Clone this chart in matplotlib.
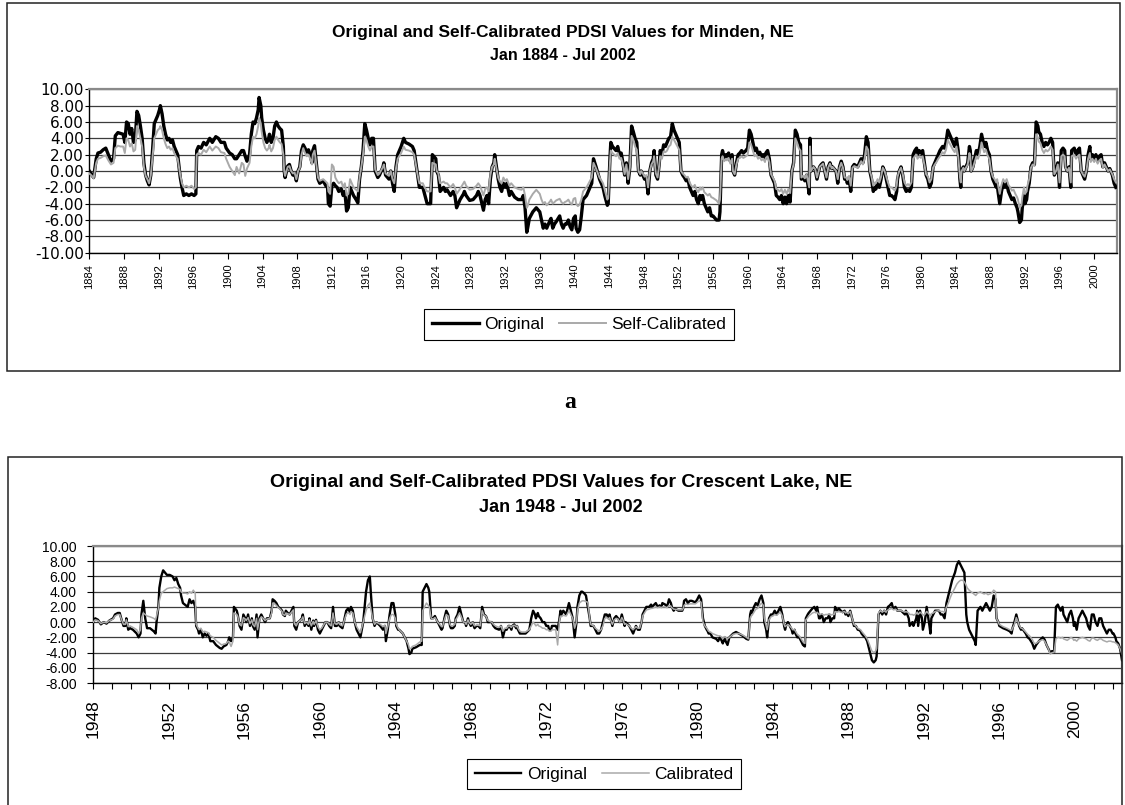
import matplotlib
matplotlib.use("Agg")
import matplotlib.pyplot as plt
from matplotlib.patches import Rectangle
from matplotlib.lines import Line2D
from matplotlib.ticker import FixedLocator, FuncFormatter

# ---- panel a: Minden, NE ----
a_years = [
    1884.0, 1884.3, 1884.5, 1884.8, 1885.0, 1885.3, 1885.6, 1885.9,
    1886.2, 1886.5, 1886.8, 1887.0, 1887.3, 1887.6, 1887.9, 1888.1,
    1888.3, 1888.5, 1888.7, 1888.9, 1889.1, 1889.3, 1889.5, 1889.7,
    1889.9, 1890.1, 1890.3, 1890.5, 1890.7, 1890.9, 1891.1, 1891.3,
    1891.5, 1891.7, 1891.9, 1892.1, 1892.2, 1892.4, 1892.6, 1892.8,
    1893.0, 1893.2, 1893.4, 1893.6, 1893.8, 1894.0, 1894.2, 1894.5,
    1894.7, 1894.9, 1895.2, 1895.5, 1895.8, 1896.1, 1896.3, 1896.4,
    1896.6, 1896.9, 1897.2, 1897.5, 1897.9, 1898.2, 1898.6, 1898.9,
    1899.2, 1899.6, 1899.8, 1900.2, 1900.5, 1900.8, 1901.0, 1901.3,
    1901.6, 1901.8, 1902.0, 1902.2, 1902.5, 1902.7, 1902.9, 1903.1,
    1903.3, 1903.5, 1903.6, 1903.8, 1903.9, 1904.1, 1904.3, 1904.5,
    1904.7, 1904.8, 1905.0, 1905.2, 1905.4, 1905.6, 1905.8, 1906.0,
    1906.2, 1906.4, 1906.5, 1906.6, 1906.9, 1907.1, 1907.3, 1907.5,
    1907.7, 1907.9, 1908.1, 1908.3, 1908.5, 1908.7, 1908.9, 1909.1,
    1909.3, 1909.5, 1909.7, 1909.8, 1910.0, 1910.2, 1910.4, 1910.6,
    1911.0, 1911.3, 1911.5, 1911.6, 1911.8, 1912.0, 1912.2, 1912.4,
    1912.6, 1912.8, 1913.1, 1913.3, 1913.5, 1913.7, 1913.9, 1914.1,
    1914.3, 1914.5, 1914.8, 1915.0, 1915.2, 1915.4, 1915.6, 1915.8,
    1916.0, 1916.2, 1916.4, 1916.6, 1916.8, 1917.0, 1917.3, 1917.5,
    1917.9, 1918.0, 1918.2, 1918.6, 1918.8, 1919.0, 1919.2, 1919.4,
    1919.6, 1920.0, 1920.3, 1920.5, 1920.9, 1921.3, 1921.5, 1921.7,
    1921.9, 1922.1, 1922.5, 1922.7, 1923.0, 1923.4, 1923.6, 1924.0,
    1924.1, 1924.3, 1924.4, 1924.5, 1924.9, 1925.1, 1925.3, 1925.7,
    1926.0, 1926.2, 1926.4, 1926.8, 1927.2, 1927.3, 1927.5, 1927.9,
    1928.3, 1928.7, 1928.9, 1929.1, 1929.5, 1929.7, 1929.9, 1930.1,
    1930.3, 1930.5, 1930.7, 1930.8, 1931.0, 1931.2, 1931.4, 1931.6,
    1931.8, 1932.0, 1932.2, 1932.5, 1932.7, 1933.1, 1933.5, 1933.9,
    1934.1, 1934.3, 1934.5, 1934.6, 1934.8, 1935.2, 1935.6, 1936.0,
    1936.2, 1936.4, 1936.6, 1936.8, 1937.2, 1937.3, 1937.5, 1937.7,
    1937.9, 1938.3, 1938.5, 1938.7, 1938.9, 1939.1, 1939.3, 1939.5,
    1939.7, 1939.9, 1940.1, 1940.2, 1940.4, 1940.6, 1940.8, 1941.0,
    1941.4, 1941.8, 1942.0, 1942.2, 1942.5, 1942.9, 1943.3, 1943.5,
    1943.8, 1943.9, 1944.1, 1944.2, 1944.4, 1944.8, 1945.0, 1945.2,
    1945.4, 1945.6, 1945.8, 1946.0, 1946.2, 1946.4, 1946.6, 1946.8,
    1947.0, 1947.2, 1947.4, 1947.6, 1947.7, 1947.9, 1948.1, 1948.3,
    1948.5, 1948.7, 1948.9, 1949.1, 1949.2, 1949.4, 1949.6, 1949.8,
    1949.9, 1950.1, 1950.3, 1950.5, 1950.7, 1950.9, 1951.1, 1951.3,
    1951.5, 1951.7, 1951.9, 1952.1, 1952.3, 1952.5, 1952.7, 1952.9,
    1953.1, 1953.3, 1953.5, 1953.7, 1953.9, 1954.1, 1954.3, 1954.5,
    1954.6, 1954.8, 1955.0, 1955.2, 1955.4, 1955.6, 1955.8, 1956.0,
    1956.4, 1956.7, 1956.8, 1957.0, 1957.1, 1957.3, 1957.5, 1957.6,
    1957.8, 1958.0, 1958.2, 1958.3, 1958.5, 1958.7, 1958.9, 1959.1,
    1959.3, 1959.5, 1959.8, 1960.0, 1960.2, 1960.4, 1960.6, 1960.8,
    1961.0, 1961.2, 1961.4, 1961.6, 1961.8, 1962.0, 1962.1, 1962.3,
    1962.5, 1962.7, 1962.9, 1963.1, 1963.3, 1963.5, 1963.7, 1963.9,
    1964.1, 1964.3, 1964.5, 1964.7, 1964.9, 1965.1, 1965.3, 1965.5,
    1965.7, 1965.9, 1966.1, 1966.2, 1966.4, 1966.6, 1966.8, 1967.0,
    1967.1, 1967.2, 1967.3, 1967.6, 1967.8, 1968.0, 1968.2, 1968.3,
    1968.5, 1968.7, 1968.9, 1969.1, 1969.3, 1969.5, 1969.7, 1969.8,
    1970.2, 1970.4, 1970.6, 1970.8, 1971.0, 1971.2, 1971.4, 1971.5,
    1971.7, 1971.9, 1972.1, 1972.3, 1972.7, 1972.9, 1973.1, 1973.3,
    1973.5, 1973.7, 1973.9, 1974.1, 1974.3, 1974.5, 1974.7, 1974.8,
    1975.0, 1975.2, 1975.4, 1975.6, 1975.8, 1976.0, 1976.2, 1976.4,
    1976.6, 1976.8, 1977.0, 1977.2, 1977.3, 1977.5, 1977.7, 1977.9,
    1978.1, 1978.3, 1978.5, 1978.7, 1978.9, 1979.1, 1979.3, 1979.5,
    1979.6, 1979.8, 1980.0, 1980.2, 1980.4, 1980.6, 1980.8, 1981.0,
    1981.2, 1981.4, 1981.6, 1981.8, 1982.0, 1982.2, 1982.5, 1982.7,
    1982.9, 1983.1, 1983.3, 1983.5, 1983.7, 1983.9, 1984.1, 1984.3,
    1984.5, 1984.6, 1984.7, 1984.9, 1985.0, 1985.2, 1985.4, 1985.6,
    1985.7, 1985.8, 1986.0, 1986.2, 1986.4, 1986.6, 1986.8, 1987.0,
    1987.1, 1987.3, 1987.5, 1987.7, 1987.9, 1988.1, 1988.3, 1988.5,
    1988.7, 1988.8, 1988.9, 1989.1, 1989.3, 1989.5, 1989.7, 1989.9,
    1990.1, 1990.3, 1990.5, 1990.7, 1990.9, 1991.1, 1991.2, 1991.4,
    1991.6, 1991.7, 1991.9, 1992.0, 1992.2, 1992.3, 1992.5, 1992.7,
    1992.9, 1993.1, 1993.3, 1993.5, 1993.6, 1993.8, 1994.0, 1994.2,
    1994.4, 1994.6, 1994.8, 1995.0, 1995.2, 1995.4, 1995.6, 1995.8,
    1996.0, 1996.2, 1996.4, 1996.6, 1996.7, 1996.9, 1997.1, 1997.3,
    1997.4, 1997.7, 1997.9, 1998.1, 1998.3, 1998.5, 1998.7, 1998.9,
    1999.1, 1999.3, 1999.5, 1999.6, 1999.8, 2000.0, 2000.2, 2000.4,
    2000.6, 2000.8, 2001.0, 2001.2, 2001.4, 2001.6, 2001.8, 2002.1,
    2002.3, 2002.5,
]
a_orig = [
    0.0, -0.5, -0.8, 1.5, 2.2, 2.3, 2.6, 2.8,
    2.0, 1.2, 1.5, 4.3, 4.7, 4.6, 4.5, 3.5,
    6.0, 5.8, 4.5, 5.2, 3.5, 3.8, 7.3, 6.8,
    5.5, 4.0, 1.0, -0.5, -1.2, -1.7, -0.5, 2.5,
    5.8, 6.3, 6.8, 7.5, 8.0, 7.0, 5.5, 4.5,
    3.8, 4.0, 3.5, 3.8, 3.0, 2.5, 2.0, -0.8,
    -2.0, -3.0, -2.8, -3.0, -2.8, -3.0, -2.8, 2.5,
    3.0, 2.8, 3.5, 3.2, 4.0, 3.5, 4.2, 4.0,
    3.5, 3.5, 2.8, 2.2, 2.0, 1.5, 1.5, 2.0,
    2.5, 2.5, 1.8, 1.2, 2.0, 4.5, 6.0, 5.8,
    6.5, 7.5, 9.0, 8.0, 6.5, 5.0, 4.0, 3.5,
    4.0, 4.5, 3.5, 4.0, 5.5, 6.0, 5.5, 5.2,
    5.0, 3.0, 0.0, -0.8, 0.6, 0.8, 0.0, -0.5,
    -0.3, -1.2, 0.0, 0.5, 2.5, 3.2, 2.8, 2.3,
    2.6, 2.0, 1.0, 2.5, 3.1, 1.0, -1.0, -1.5,
    -1.2, -1.8, -2.0, -4.0, -4.3, -1.8, -1.5, -1.8,
    -2.0, -2.5, -2.2, -3.0, -2.5, -4.9, -4.5, -2.0,
    -2.5, -3.0, -3.5, -3.9, -1.0, 0.5, 2.5, 5.8,
    5.0, 4.0, 3.2, 4.0, 4.0, 0.0, -0.8, -0.5,
    0.5, 1.0, -0.5, -1.0, 0.0, -1.5, -2.5, 0.5,
    2.0, 3.0, 4.0, 3.5, 3.3, 3.0, 2.5, 1.0,
    -0.5, -2.0, -2.0, -2.8, -4.0, -4.0, 2.0, 1.5,
    0.0, -0.5, -1.5, -2.5, -2.0, -2.5, -2.3, -3.0,
    -2.5, -3.0, -4.5, -3.5, -2.8, -2.5, -3.0, -3.6,
    -3.5, -3.0, -2.5, -3.0, -4.8, -3.5, -3.0, -4.0,
    -1.0, 0.5, 1.0, 2.0, 0.5, -1.0, -2.0, -2.5,
    -1.5, -2.0, -1.5, -3.0, -2.5, -3.2, -3.5, -3.5,
    -3.0, -4.5, -7.5, -7.0, -5.8, -5.0, -4.5, -5.0,
    -6.0, -7.0, -6.5, -7.0, -6.0, -5.8, -7.0, -6.5,
    -6.2, -5.5, -6.5, -7.0, -6.5, -6.5, -6.0, -6.8,
    -7.2, -5.8, -5.5, -7.0, -7.5, -7.2, -5.5, -3.5,
    -3.0, -2.0, -1.5, 1.5, 0.5, -1.0, -2.0, -3.0,
    -4.2, -4.0, 1.5, 3.5, 3.0, 2.5, 3.0, 2.0,
    2.2, 1.0, -0.5, 1.0, -1.5, 0.5, 5.5, 4.8,
    4.0, 3.5, 0.0, -0.5, 0.0, -0.5, -1.0, -0.8,
    -2.8, 0.0, 1.0, 1.5, 2.5, -0.5, -1.0, 1.0,
    2.5, 2.0, 3.2, 3.0, 3.5, 4.0, 4.2, 5.8,
    5.0, 4.5, 4.0, 3.5, 0.0, -0.5, -0.8, -1.2,
    -1.0, -2.0, -2.5, -3.0, -2.5, -3.5, -4.0, -3.0,
    -3.5, -3.0, -4.0, -4.5, -5.0, -4.5, -5.5, -5.5,
    -6.0, -6.0, -5.0, 2.0, 2.5, 1.5, 2.0, 1.8,
    2.2, 1.2, 2.0, 0.0, -0.5, 1.0, 2.0, 2.2,
    2.5, 2.2, 2.5, 2.8, 5.0, 4.5, 3.5, 2.5,
    2.8, 2.0, 2.3, 1.8, 2.0, 1.5, 2.2, 2.5,
    1.5, -0.5, -1.0, -1.5, -3.0, -3.2, -3.5, -3.0,
    -4.0, -3.2, -4.0, -3.0, -3.8, 0.0, 1.0, 5.0,
    4.5, 3.5, 3.2, -1.0, -0.8, -1.2, -0.5, -2.0,
    -2.8, 4.0, 0.0, 0.5, 0.2, -1.0, 0.0, 0.5,
    0.8, 1.0, 0.0, -1.0, 0.5, 1.0, 0.3, 0.5,
    0.0, -1.5, 0.5, 1.2, 0.5, -1.0, -1.0, -1.5,
    -0.8, -2.5, 0.5, 0.8, 0.5, 1.0, 1.5, 1.0,
    2.0, 4.2, 3.5, 0.0, -1.0, -2.5, -2.0, -2.2,
    -1.5, -2.0, -1.0, 0.5, 0.0, -1.0, -2.0, -3.0,
    -3.0, -3.2, -3.5, -2.5, -1.0, 0.0, 0.5, -0.5,
    -2.0, -2.5, -2.3, -2.5, -2.0, 2.0, 2.5, 2.8,
    2.0, 2.5, 2.2, 2.5, 1.0, -0.5, -1.0, -2.0,
    -1.5, 0.5, 1.0, 1.5, 2.0, 2.5, 3.0, 2.8,
    3.5, 5.0, 4.5, 4.0, 3.5, 3.0, 4.0, 2.5,
    -1.0, -2.0, 0.0, 0.5, 0.0, 0.5, 1.0, 3.0,
    2.5, 0.0, 0.5, 1.5, 2.5, 2.0, 3.0, 4.5,
    4.0, 3.0, 3.5, 2.5, 2.0, 0.0, -1.0, -1.5,
    -2.0, -1.5, -2.5, -4.0, -2.5, -1.5, -2.0, -1.5,
    -2.5, -3.0, -3.5, -3.3, -4.0, -4.5, -5.0, -6.3,
    -6.0, -4.5, -3.0, -4.0, -3.5, -2.5, -1.5, 0.5,
    1.0, 0.8, 6.0, 5.5, 4.8, 4.5, 3.5, 3.0,
    3.5, 3.2, 3.5, 4.0, 3.5, -0.5, 0.0, 1.0,
    -2.0, 2.5, 2.8, 2.5, 0.5, 0.0, 0.5, -2.0,
    2.5, 2.8, 2.0, 2.5, 2.8, 0.0, -0.5, -1.0,
    0.0, 2.0, 3.0, 1.5, 2.0, 1.5, 2.0, 1.2,
    1.8, 2.0, 0.5, 1.0, 0.5, 0.0, 0.3, -0.5,
    -1.5, -2.0,
]
a_cal = [
    -0.3, -0.6, -0.9, 1.0, 1.5, 1.6, 1.8, 1.9,
    1.3, 0.8, 1.0, 2.8, 3.1, 3.0, 3.0, 2.2,
    4.0, 3.8, 3.0, 3.4, 2.4, 2.6, 5.5, 5.0,
    4.0, 3.0, 0.5, -0.6, -1.0, -1.5, -0.5, 1.8,
    4.0, 4.5, 5.0, 5.2, 5.5, 5.0, 4.0, 3.3,
    2.8, 3.0, 2.6, 2.8, 2.2, 1.8, 1.5, -0.5,
    -1.5, -2.0, -1.8, -2.0, -1.8, -2.2, -2.0, 2.0,
    2.2, 2.0, 2.6, 2.3, 3.0, 2.5, 3.0, 2.8,
    2.3, 2.2, 1.5, 0.5, 0.0, -0.5, 0.5, -0.3,
    1.0, 0.8, -0.6, 0.3, 1.0, 3.0, 4.2, 4.0,
    4.5, 5.5, 6.5, 5.8, 4.8, 3.5, 2.8, 2.5,
    2.8, 3.2, 2.4, 2.8, 3.8, 4.2, 3.8, 3.5,
    3.3, 2.0, 0.0, -0.6, 0.5, 0.6, 0.0, -0.3,
    -0.2, -1.0, 0.0, 0.4, 2.0, 2.8, 2.2, 1.8,
    2.0, 1.5, 0.8, 2.0, 2.5, 0.8, -0.8, -1.2,
    -1.0, -1.3, -1.5, -2.5, -2.8, 0.8, 0.5, -0.8,
    -1.2, -1.5, -1.3, -2.0, -1.5, -3.0, -2.8, -1.0,
    -1.5, -2.0, -2.3, -2.5, -0.8, 0.5, 2.0, 4.2,
    3.8, 3.0, 2.5, 3.0, 3.0, 0.2, -0.5, -0.3,
    0.5, 0.8, -0.3, -0.6, 0.0, -1.0, -1.5, 0.3,
    1.5, 2.2, 3.0, 2.6, 2.5, 2.3, 2.0, 0.8,
    -0.5, -1.5, -1.5, -2.0, -2.5, -2.5, 1.0, 0.8,
    0.0, -0.3, -1.0, -1.5, -1.3, -1.5, -1.5, -2.0,
    -1.6, -2.0, -2.8, -2.2, -1.5, -1.3, -1.8, -2.3,
    -2.2, -1.8, -1.5, -1.8, -3.0, -2.2, -2.0, -2.5,
    -0.5, 0.5, 0.8, 1.5, 0.3, -0.8, -1.3, -1.5,
    -0.8, -1.2, -1.0, -1.8, -1.5, -2.0, -2.2, -2.3,
    -2.0, -3.0, -4.5, -4.3, -3.5, -2.8, -2.3, -2.8,
    -3.5, -4.0, -3.8, -4.2, -3.7, -3.5, -4.0, -3.8,
    -3.6, -3.4, -3.8, -4.0, -3.8, -3.7, -3.5, -3.9,
    -4.1, -3.4, -3.3, -4.0, -4.3, -4.1, -3.5, -2.5,
    -2.0, -1.2, -0.8, 1.0, 0.3, -0.8, -1.5, -2.3,
    -3.5, -3.3, 1.0, 2.5, 2.2, 1.8, 2.2, 1.5,
    1.6, 0.8, -0.4, 0.8, -1.0, 0.4, 4.3, 3.8,
    3.0, 2.6, 0.0, -0.4, 0.0, -0.3, -0.7, -0.5,
    -2.0, 0.0, 0.8, 1.2, 1.8, -0.3, -0.8, 0.8,
    1.8, 1.5, 2.4, 2.3, 2.5, 3.0, 3.2, 4.2,
    3.8, 3.4, 3.0, 2.6, 0.0, -0.3, -0.5, -0.8,
    -0.7, -1.4, -1.8, -2.0, -1.7, -2.3, -2.6, -2.0,
    -2.3, -2.0, -2.6, -2.8, -3.0, -2.8, -3.2, -3.3,
    -3.6, -4.0, -3.5, 1.5, 1.8, 1.2, 1.5, 1.3,
    1.6, 0.9, 1.5, 0.0, -0.4, 0.8, 1.5, 1.6,
    1.8, 1.6, 1.8, 2.0, 3.5, 3.2, 2.5, 1.8,
    2.0, 1.5, 1.7, 1.3, 1.5, 1.1, 1.6, 1.8,
    1.1, -0.4, -0.8, -1.2, -2.2, -2.3, -2.5, -2.2,
    -2.8, -2.3, -2.8, -2.2, -2.7, 0.0, 0.8, 4.0,
    3.5, 2.8, 2.5, -0.8, -0.6, -0.9, -0.4, -1.5,
    -2.0, 3.0, 0.0, 0.5, 0.2, -0.8, 0.0, 0.5,
    0.7, 0.9, 0.0, -0.8, 0.4, 0.9, 0.3, 0.5,
    0.0, -1.0, 0.4, 1.0, 0.4, -0.8, -0.8, -1.1,
    -0.6, -1.8, 0.4, 0.6, 0.4, 0.8, 1.2, 0.8,
    1.5, 3.0, 2.6, 0.0, -0.7, -1.8, -1.4, -1.5,
    -1.0, -1.4, -0.7, 0.4, 0.0, -0.7, -1.4, -2.0,
    -2.0, -2.2, -2.4, -1.8, -0.7, 0.0, 0.4, -0.4,
    -1.4, -1.8, -1.6, -1.8, -1.4, 1.5, 1.8, 2.0,
    1.5, 1.8, 1.6, 1.8, 0.8, -0.4, -0.7, -1.4,
    -1.0, 0.4, 0.8, 1.1, 1.5, 1.8, 2.3, 2.1,
    2.6, 3.8, 3.4, 3.0, 2.6, 2.3, 3.0, 1.8,
    -0.7, -1.4, 0.0, 0.4, 0.0, 0.4, 0.8, 2.2,
    1.8, 0.0, 0.4, 1.1, 1.8, 1.5, 2.2, 3.5,
    3.1, 2.3, 2.6, 1.9, 1.5, 0.0, -0.7, -1.0,
    -1.4, -1.0, -1.7, -2.8, -1.7, -1.0, -1.4, -1.0,
    -1.7, -2.0, -2.4, -2.3, -2.8, -3.2, -3.5, -4.5,
    -4.2, -3.2, -2.0, -2.8, -2.5, -1.8, -1.0, 0.4,
    0.8, 0.6, 4.5, 4.1, 3.6, 3.4, 2.6, 2.2,
    2.6, 2.4, 2.6, 3.0, 2.6, -0.4, 0.0, 0.8,
    -1.4, 1.8, 2.0, 1.8, 0.4, 0.0, 0.4, -1.4,
    1.8, 2.0, 1.5, 1.8, 2.0, 0.0, -0.4, -0.7,
    0.0, 1.5, 2.2, 1.1, 1.5, 1.1, 1.5, 0.9,
    1.3, 1.5, 0.4, 0.8, 0.4, 0.0, 0.2, -0.4,
    -1.0, -1.4,
]

# ---- panel b: Crescent Lake, NE ----
b_years = [
    1948.0, 1948.1, 1948.25, 1948.4, 1948.55, 1948.7, 1948.85, 1949.05,
    1949.15, 1949.3, 1949.4, 1949.5, 1949.6, 1949.7, 1949.75, 1949.85,
    1949.95, 1950.1, 1950.3, 1950.4, 1950.5, 1950.55, 1950.65, 1950.75,
    1950.85, 1951.0, 1951.2, 1951.3, 1951.35, 1951.45, 1951.5, 1951.6,
    1951.7, 1951.8, 1951.9, 1952.05, 1952.2, 1952.3, 1952.4, 1952.5,
    1952.6, 1952.65, 1952.75, 1952.9, 1953.0, 1953.1, 1953.2, 1953.3,
    1953.4, 1953.45, 1953.55, 1953.6, 1953.7, 1953.8, 1953.9, 1954.0,
    1954.1, 1954.2, 1954.35, 1954.5, 1954.7, 1954.8, 1954.9, 1955.05,
    1955.15, 1955.2, 1955.3, 1955.4, 1955.45, 1955.6, 1955.65, 1955.75,
    1955.85, 1955.95, 1956.05, 1956.1, 1956.2, 1956.3, 1956.4, 1956.45,
    1956.55, 1956.65, 1956.7, 1956.8, 1956.9, 1957.0, 1957.1, 1957.2,
    1957.35, 1957.45, 1957.5, 1957.6, 1957.7, 1957.8, 1957.9, 1958.0,
    1958.05, 1958.15, 1958.2, 1958.3, 1958.4, 1958.5, 1958.6, 1958.65,
    1958.75, 1958.85, 1958.95, 1959.05, 1959.1, 1959.2, 1959.3, 1959.4,
    1959.45, 1959.55, 1959.65, 1959.7, 1959.8, 1959.9, 1960.0, 1960.1,
    1960.2, 1960.3, 1960.4, 1960.5, 1960.6, 1960.7, 1960.8, 1960.9,
    1961.0, 1961.05, 1961.2, 1961.4, 1961.5, 1961.6, 1961.65, 1961.75,
    1961.85, 1961.95, 1962.05, 1962.15, 1962.3, 1962.45, 1962.55, 1962.65,
    1962.7, 1962.8, 1962.9, 1963.0, 1963.2, 1963.35, 1963.45, 1963.5,
    1963.6, 1963.7, 1963.8, 1963.9, 1964.0, 1964.05, 1964.15, 1964.2,
    1964.4, 1964.5, 1964.6, 1964.7, 1964.75, 1964.85, 1964.9, 1965.1,
    1965.3, 1965.4, 1965.45, 1965.55, 1965.65, 1965.75, 1965.8, 1965.9,
    1966.0, 1966.1, 1966.15, 1966.25, 1966.35, 1966.45, 1966.5, 1966.6,
    1966.7, 1966.8, 1966.9, 1966.95, 1967.05, 1967.15, 1967.2, 1967.3,
    1967.4, 1967.5, 1967.6, 1967.7, 1967.75, 1967.85, 1967.9, 1968.0,
    1968.1, 1968.15, 1968.2, 1968.3, 1968.4, 1968.5, 1968.6, 1968.7,
    1968.8, 1968.85, 1968.9, 1969.1, 1969.2, 1969.3, 1969.5, 1969.6,
    1969.7, 1969.8, 1969.9, 1970.0, 1970.05, 1970.15, 1970.2, 1970.3,
    1970.4, 1970.45, 1970.5, 1970.6, 1970.7, 1970.9, 1971.1, 1971.2,
    1971.3, 1971.4, 1971.45, 1971.55, 1971.6, 1971.7, 1971.8, 1971.9,
    1972.0, 1972.1, 1972.15, 1972.25, 1972.3, 1972.5, 1972.6, 1972.7,
    1972.75, 1972.8, 1972.9, 1973.05, 1973.1, 1973.2, 1973.3, 1973.4,
    1973.5, 1973.6, 1973.65, 1973.75, 1973.85, 1973.9, 1974.0, 1974.1,
    1974.2, 1974.3, 1974.35, 1974.5, 1974.6, 1974.7, 1974.8, 1974.9,
    1975.0, 1975.1, 1975.2, 1975.3, 1975.35, 1975.45, 1975.5, 1975.6,
    1975.7, 1975.8, 1975.9, 1976.0, 1976.05, 1976.15, 1976.2, 1976.4,
    1976.5, 1976.6, 1976.75, 1976.85, 1976.95, 1977.05, 1977.1, 1977.2,
    1977.3, 1977.45, 1977.55, 1977.6, 1977.8, 1977.9, 1978.0, 1978.1,
    1978.15, 1978.3, 1978.4, 1978.5, 1978.6, 1978.65, 1978.75, 1978.8,
    1979.0, 1979.2, 1979.25, 1979.3, 1979.4, 1979.5, 1979.6, 1979.7,
    1979.9, 1980.0, 1980.1, 1980.2, 1980.3, 1980.4, 1980.5, 1980.55,
    1980.6, 1980.7, 1980.8, 1981.0, 1981.1, 1981.2, 1981.3, 1981.35,
    1981.45, 1981.5, 1981.6, 1981.7, 1981.9, 1982.05, 1982.2, 1982.4,
    1982.6, 1982.7, 1982.8, 1982.85, 1982.9, 1983.0, 1983.1, 1983.2,
    1983.3, 1983.4, 1983.5, 1983.55, 1983.65, 1983.7, 1983.8, 1983.9,
    1984.0, 1984.1, 1984.2, 1984.3, 1984.4, 1984.5, 1984.6, 1984.65,
    1984.7, 1984.8, 1984.9, 1985.0, 1985.05, 1985.15, 1985.2, 1985.3,
    1985.4, 1985.5, 1985.6, 1985.7, 1985.75, 1985.85, 1985.9, 1986.0,
    1986.1, 1986.2, 1986.3, 1986.35, 1986.45, 1986.5, 1986.6, 1986.7,
    1986.8, 1986.9, 1987.0, 1987.05, 1987.15, 1987.25, 1987.3, 1987.4,
    1987.5, 1987.6, 1987.7, 1987.8, 1987.85, 1987.9, 1988.0, 1988.1,
    1988.2, 1988.3, 1988.4, 1988.5, 1988.55, 1988.65, 1988.7, 1988.8,
    1988.9, 1989.0, 1989.1, 1989.2, 1989.25, 1989.35, 1989.45, 1989.5,
    1989.6, 1989.7, 1989.8, 1989.9, 1990.0, 1990.05, 1990.1, 1990.2,
    1990.3, 1990.35, 1990.4, 1990.5, 1990.6, 1990.8, 1991.0, 1991.05,
    1991.2, 1991.25, 1991.4, 1991.45, 1991.6, 1991.65, 1991.7, 1991.8,
    1991.9, 1991.95, 1992.05, 1992.15, 1992.3, 1992.35, 1992.4, 1992.5,
    1992.6, 1992.8, 1992.9, 1993.0, 1993.1, 1993.15, 1993.2, 1993.3,
    1993.4, 1993.5, 1993.65, 1993.75, 1993.85, 1993.95, 1994.05, 1994.15,
    1994.25, 1994.3, 1994.4, 1994.5, 1994.6, 1994.7, 1994.75, 1994.85,
    1995.0, 1995.1, 1995.2, 1995.3, 1995.4, 1995.5, 1995.6, 1995.7,
    1995.8, 1995.85, 1995.95, 1996.0, 1996.2, 1996.4, 1996.55, 1996.65,
    1996.7, 1996.8, 1996.9, 1997.0, 1997.05, 1997.15, 1997.2, 1997.4,
    1997.5, 1997.6, 1997.75, 1997.85, 1997.95, 1998.1, 1998.3, 1998.4,
    1998.5, 1998.6, 1998.7, 1998.8, 1998.9, 1999.0, 1999.1, 1999.15,
    1999.25, 1999.35, 1999.4, 1999.5, 1999.6, 1999.7, 1999.8, 1999.9,
    1999.95, 2000.0, 2000.1, 2000.2, 2000.3, 2000.4, 2000.5, 2000.6,
    2000.7, 2000.8, 2000.9, 2001.0, 2001.1, 2001.2, 2001.25, 2001.3,
    2001.4, 2001.5, 2001.6, 2001.7, 2001.8, 2001.9, 2002.0, 2002.05,
    2002.15, 2002.2, 2002.3, 2002.4, 2002.5,
]
b_orig = [
    0.0, 0.5, 0.3, -0.3, 0.0, -0.2, 0.2, 0.5,
    1.0, 1.2, 1.2, 0.3, -0.5, -0.5, 0.5, -1.0,
    -0.8, -1.0, -1.5, -2.0, -1.5, 1.0, 2.8, 0.5,
    -0.8, -0.8, -1.2, -1.5, 0.0, 2.0, 4.5, 6.0,
    6.8, 6.5, 6.2, 6.2, 6.0, 5.5, 5.8, 5.0,
    4.5, 3.5, 2.5, 2.2, 2.0, 3.0, 2.5, 2.8,
    2.0, -0.5, -1.0, -1.5, -1.0, -2.0, -1.5, -1.8,
    -1.5, -2.5, -2.5, -3.0, -3.4, -3.5, -3.2, -3.0,
    -2.5, -2.0, -2.5, -2.0, 2.0, 1.5, 1.0, -0.5,
    -1.0, 1.0, 0.5, 0.0, 1.0, -0.5, 0.5, -0.5,
    -1.0, 1.0, -2.0, 0.5, 1.0, 0.5, 0.0, 0.5,
    0.5, 1.5, 3.0, 2.8, 2.5, 2.0, 1.8, 1.5,
    1.0, 0.8, 1.5, 1.2, 1.0, 1.5, 2.0, -0.5,
    -1.0, 0.0, 0.2, 0.5, 1.0, -0.5, 0.0, -0.5,
    0.5, -1.0, 0.2, -0.5, 0.3, -1.0, -1.5, -1.0,
    -0.5, 0.0, 0.0, -0.5, -0.8, 2.0, -0.5, -0.5,
    0.0, -0.5, -0.8, 1.5, 1.8, 1.2, 2.0, 1.5,
    0.0, -1.0, -1.5, -2.0, 0.0, 4.0, 5.5, 6.0,
    4.0, 0.5, -0.5, 0.0, -0.5, -1.0, -0.5, -2.5,
    -1.0, 1.0, 2.5, 2.5, 1.0, -0.5, -1.0, -1.0,
    -1.5, -2.0, -2.5, -3.5, -4.2, -4.0, -3.5, -3.3,
    -3.0, -3.0, 4.0, 4.5, 5.0, 4.5, 4.0, 0.5,
    0.5, 0.8, 0.5, 0.0, -0.5, -1.0, -0.8, 0.5,
    1.5, 1.0, -0.5, -0.8, -0.8, -0.5, 0.5, 1.0,
    2.0, 1.0, 0.0, 0.0, -0.5, 0.5, 0.0, -0.5,
    0.0, -0.5, -0.8, -0.5, -0.5, -0.8, 2.0, 1.0,
    0.8, 0.5, 0.0, 0.0, -0.5, -0.8, -1.0, -0.5,
    -2.0, -1.0, -1.0, -0.5, -0.5, -1.0, -0.5, -0.3,
    -0.8, -0.5, -1.0, -1.5, -1.5, -1.5, -1.0, 0.5,
    1.5, 1.0, 0.5, 1.2, 0.8, 0.5, 0.0, 0.0,
    -0.5, -0.5, -1.0, -1.0, -0.5, -0.5, -1.0, 0.5,
    1.5, 1.0, 1.5, 1.0, 1.5, 2.5, 1.5, 0.5,
    -2.0, 0.0, 2.0, 3.5, 4.0, 4.0, 3.8, 3.5,
    2.0, 0.5, -0.5, -0.5, -1.0, -1.5, -1.5, -1.0,
    0.0, 1.0, 1.0, 0.5, 1.0, 0.0, -0.5, 0.5,
    0.8, 0.5, 0.0, 1.0, 0.5, -0.5, 0.0, -0.5,
    -1.0, -1.5, -0.5, -1.0, -1.0, 0.0, 1.0, 1.5,
    2.0, 2.0, 2.3, 2.0, 2.5, 2.0, 2.2, 2.0,
    2.5, 2.3, 2.0, 3.0, 2.5, 2.0, 1.5, 1.8,
    1.5, 1.5, 1.8, 2.8, 3.0, 2.5, 2.8, 2.8,
    2.6, 3.0, 3.5, 3.0, 0.5, -0.5, -1.0, -1.2,
    -1.5, -1.5, -2.0, -2.2, -2.5, -2.0, -2.5, -2.8,
    -2.0, -2.5, -3.0, -2.0, -1.5, -1.3, -1.5, -1.8,
    -2.2, -2.3, 1.0, 1.5, 1.2, 2.0, 2.5, 2.2,
    3.0, 3.5, 2.5, 0.0, -1.0, -2.0, 0.5, 1.0,
    1.0, 1.5, 1.0, 1.5, 2.0, 1.0, -0.5, -1.0,
    -0.5, 0.0, -0.5, -1.0, -1.5, -1.0, -1.5, -2.0,
    -2.0, -2.5, -3.0, -3.2, 0.5, 1.0, 1.2, 1.5,
    1.8, 2.0, 1.5, 2.0, 0.5, 0.5, 1.0, 0.0,
    0.5, 0.5, 1.0, 0.0, 0.5, 0.5, 2.0, 1.5,
    1.8, 1.5, 1.3, 1.5, 1.0, 1.2, 0.8, 1.5,
    0.5, -0.5, -0.5, -1.0, -1.0, -1.2, -1.5, -1.8,
    -2.0, -2.5, -3.5, -4.5, -5.0, -5.3, -5.0, -4.5,
    1.0, 1.5, 1.0, 1.5, 1.0, 1.5, 2.0, 2.2,
    2.5, 2.0, 1.8, 2.0, 1.5, 1.5, 1.0, 1.5,
    0.5, -0.5, 0.0, -0.5, 0.5, 1.5, -0.5, 1.5,
    0.5, -1.0, 0.0, 2.0, -0.5, -1.5, 0.5, 1.0,
    1.5, 1.5, 1.0, 1.0, 0.5, 1.5, 2.5, 3.5,
    4.5, 5.5, 6.5, 7.5, 8.0, 7.5, 7.0, 6.5,
    1.0, 0.0, -1.0, -1.5, -2.0, -2.5, -3.0, 1.5,
    2.0, 1.5, 2.0, 2.5, 2.0, 1.5, 2.0, 3.5,
    3.0, 0.5, 0.0, -0.5, -0.8, -1.0, -1.2, -1.5,
    -0.8, 0.0, 1.0, 0.0, -0.5, -1.0, -0.8, -1.5,
    -2.0, -2.2, -2.8, -3.5, -3.0, -2.5, -2.0, -2.3,
    -3.0, -3.5, -4.0, -3.8, -4.0, 2.0, 2.3, 2.0,
    1.5, 2.0, 1.0, 0.5, 0.0, 1.0, 1.5, 0.5,
    -0.5, 0.0, -1.0, 0.5, 1.0, 1.5, 1.0, 0.5,
    -0.5, -1.0, 1.0, 1.0, 0.0, -0.5, 0.0, 0.5,
    0.5, -0.5, -1.0, -1.5, -1.0, -1.0, -1.5, -1.5,
    -2.0, -2.5, -2.8, -3.5, -5.0,
]
b_cal = [
    0.0, 0.3, 0.2, -0.2, 0.0, -0.1, 0.2, 0.4,
    0.8, 1.0, 1.0, 0.3, -0.3, -0.3, 0.3, -0.6,
    -0.5, -0.7, -1.0, -1.5, -1.0, 0.5, 1.2, 1.0,
    0.8, 0.7, 0.5, 0.3, 0.8, 1.8, 2.8, 3.8,
    4.0, 4.2, 4.4, 4.5, 4.5, 4.6, 4.5, 4.4,
    4.3, 4.0, 3.8, 3.8, 3.7, 4.0, 3.8, 4.2,
    3.8, -0.3, -0.8, -1.0, -0.8, -1.3, -1.2, -1.3,
    -1.4, -1.8, -2.0, -2.4, -2.8, -3.0, -2.9, -2.8,
    -2.5, -2.6, -3.2, -2.5, 1.2, 1.0, 0.8, -0.3,
    -0.5, 0.6, 0.4, 0.2, 0.6, -0.2, 0.3, -0.3,
    -0.6, 0.5, -1.0, 0.3, 0.7, 0.5, 0.2, 0.4,
    0.5, 1.2, 2.5, 2.4, 2.2, 1.9, 1.7, 1.4,
    1.0, 0.9, 1.2, 1.1, 1.0, 1.3, 1.6, -0.2,
    -0.5, 0.0, 0.2, 0.4, 0.7, -0.2, 0.0, -0.3,
    0.3, -0.5, 0.1, -0.3, 0.2, -0.6, -1.0, -0.8,
    -0.4, 0.0, 0.0, -0.3, -0.5, 1.2, -0.2, -0.3,
    0.0, -0.3, -0.5, 1.0, 1.3, 1.0, 1.4, 1.2,
    0.0, -0.6, -1.0, -1.4, 0.0, 1.5, 2.2, 2.5,
    1.8, 0.5, -0.3, 0.0, -0.3, -0.6, -0.4, -1.5,
    -0.6, 0.5, 1.0, 1.0, 0.5, -0.3, -0.8, -1.0,
    -1.5, -2.0, -2.5, -3.0, -3.5, -3.4, -3.2, -3.0,
    -2.6, -2.5, 1.5, 2.0, 2.5, 2.2, 2.0, 0.5,
    0.4, 0.6, 0.4, 0.0, -0.3, -0.6, -0.6, 0.3,
    1.0, 0.8, -0.3, -0.5, -0.5, -0.3, 0.3, 0.7,
    1.2, 0.7, 0.0, 0.0, -0.3, 0.3, 0.0, -0.3,
    0.0, -0.3, -0.5, -0.4, -0.4, -0.5, 1.5, 0.9,
    0.8, 0.5, 0.2, 0.0, -0.3, -0.5, -0.7, -0.5,
    -1.2, -0.8, -0.8, -0.5, -0.5, -0.7, -0.5, -0.4,
    -0.6, -0.5, -0.8, -1.2, -1.3, -1.3, -1.0, -0.5,
    0.0, -0.3, -0.5, -0.3, -0.5, -0.6, -0.8, -0.8,
    -1.0, -1.0, -1.2, -1.2, -1.0, -1.0, -3.0, 0.3,
    0.8, 0.7, 0.9, 0.8, 1.0, 1.5, 1.0, 0.5,
    -0.8, 0.0, 1.5, 2.5, 2.7, 2.8, 2.8, 2.7,
    2.6, 0.5, -0.3, -0.5, -0.8, -1.0, -1.2, -1.0,
    -0.5, 0.5, 0.6, 0.4, 0.6, 0.0, -0.3, 0.3,
    0.5, 0.4, 0.0, 0.6, 0.4, -0.3, -0.2, -0.5,
    -0.8, -1.0, -0.6, -0.8, -0.8, 0.0, 0.8, 1.2,
    1.6, 1.7, 1.8, 1.8, 2.0, 1.9, 2.0, 1.9,
    2.0, 2.0, 1.9, 2.2, 2.1, 1.9, 1.7, 1.7,
    1.6, 1.6, 1.8, 2.2, 2.4, 2.3, 2.4, 2.4,
    2.4, 2.6, 2.8, 2.6, 0.0, -0.5, -0.8, -1.0,
    -1.2, -1.3, -1.5, -1.7, -1.8, -1.8, -2.0, -2.2,
    -1.9, -2.0, -2.2, -2.0, -1.6, -1.5, -1.5, -1.7,
    -2.0, -2.2, 0.5, 0.8, 0.9, 1.3, 1.7, 1.8,
    2.2, 2.5, 2.2, 0.5, -0.5, -1.0, 0.3, 0.7,
    0.8, 1.0, 0.9, 1.1, 1.3, 0.8, -0.3, -0.6,
    -0.5, -0.3, -0.5, -0.8, -1.0, -1.0, -1.2, -1.6,
    -1.8, -2.2, -2.6, -2.8, 0.3, 0.6, 0.8, 1.0,
    1.2, 1.3, 1.2, 1.3, 1.0, 1.0, 1.1, 0.9,
    1.0, 1.0, 1.1, 0.9, 1.0, 1.0, 1.4, 1.3,
    1.4, 1.3, 1.3, 1.4, 1.2, 1.3, 1.1, 1.4,
    0.5, -0.3, -0.5, -0.8, -0.9, -1.0, -1.2, -1.5,
    -1.8, -2.2, -2.8, -3.5, -3.8, -4.0, -3.8, -3.5,
    1.2, 1.5, 1.3, 1.5, 1.3, 1.5, 1.6, 1.7,
    1.8, 1.7, 1.6, 1.7, 1.5, 1.5, 1.3, 1.4,
    1.2, 1.0, 1.0, 0.9, 1.1, 1.3, 1.0, 1.3,
    1.1, 0.9, 1.0, 1.4, 1.0, 0.8, 1.1, 1.2,
    1.4, 1.5, 1.4, 1.4, 1.3, 1.6, 2.0, 2.5,
    3.2, 3.8, 4.5, 5.0, 5.3, 5.5, 5.5, 5.3,
    4.8, 4.5, 4.2, 4.0, 3.8, 3.6, 3.5, 3.8,
    4.0, 3.8, 3.7, 3.8, 3.6, 3.7, 3.8, 4.2,
    4.0, 0.5, 0.0, -0.3, -0.6, -0.8, -1.0, -1.1,
    -0.8, -0.3, 0.6, 0.0, -0.4, -0.8, -0.8, -1.3,
    -1.6, -1.8, -2.3, -2.8, -2.8, -2.5, -2.3, -2.5,
    -3.0, -3.5, -4.2, -4.0, -4.0, -2.2, -2.0, -2.0,
    -2.1, -2.0, -2.2, -2.3, -2.4, -2.2, -2.0, -2.2,
    -2.4, -2.3, -2.5, -2.2, -2.1, -2.0, -2.1, -2.2,
    -2.4, -2.5, -2.1, -2.1, -2.3, -2.4, -2.3, -2.2,
    -2.2, -2.4, -2.5, -2.6, -2.5, -2.5, -2.6, -2.6,
    -2.7, -2.8, -3.0, -3.5, -4.2,
]

a_xticks = list(range(1884, 2001, 4))
b_xticks = list(range(1948, 2001, 4))

W, H = 1125, 805
plt.rcParams['font.family'] = ['Liberation Sans', 'DejaVu Sans']
GRAY = '#a9a9a9'


def frac(l, t, r, b):
    # pixel box -> figure fraction [left, bottom, width, height]
    return [l / W, 1 - b / H, (r - l) / W, (b - t) / H]


fig = plt.figure(figsize=(W / 100, H / 100), dpi=100)
fig.patches.append(Rectangle((7 / W, 1 - 371 / H), 1113 / W, 368 / H,
                             transform=fig.transFigure, fill=False, lw=1.1, ec='#222222'))
fig.patches.append(Rectangle((8 / W, -0.02), 1114 / W, 1 - 457 / H + 0.02,
                             transform=fig.transFigure, fill=False, lw=1.1, ec='#222222'))

fmt = FuncFormatter(lambda v, _: f"{v:.2f}")


def style_axes(ax, ymin, ymax):
    ax.set_ylim(ymin, ymax)
    ax.set_yticks(range(ymin, ymax + 1, 2))
    ax.yaxis.set_major_formatter(fmt)
    ax.yaxis.grid(True, color='#3c3c3c', lw=0.9)
    ax.set_axisbelow(True)
    for s in ('top', 'right'):
        ax.spines[s].set_color('#8a8a8a')
        ax.spines[s].set_linewidth(1.6)
    for s in ('left', 'bottom'):
        ax.spines[s].set_color('black')
        ax.spines[s].set_linewidth(1.0)


# ---- panel a ----
ax1 = fig.add_axes(frac(89.3, 89.3, 1116.7, 252.7))
ax1.plot(a_years, a_orig, color='black', lw=2.4, zorder=3)
ax1.plot(a_years, a_cal, color=GRAY, lw=1.4, zorder=4)
ax1.set_xlim(1884, 2002.6)
style_axes(ax1, -10, 10)
ax1.xaxis.set_major_locator(FixedLocator(a_xticks))
ax1.set_xticklabels([str(y) for y in a_xticks], rotation=90, fontsize=8)
ax1.tick_params(axis='x', length=4, width=0.8, pad=4)
ax1.tick_params(axis='y', length=3, width=0.8, pad=1, labelsize=11)
for lab in ax1.get_yticklabels():
    lab.set_family('DejaVu Sans')

fig.text(563 / W, 1 - 32 / H, "Original and Self-Calibrated PDSI Values for Minden, NE",
         ha='center', va='center', fontsize=12.5, weight='bold')
fig.text(563 / W, 1 - 55 / H, "Jan 1884 - Jul 2002",
         ha='center', va='center', fontsize=11.5, weight='bold')

leg1 = fig.legend([Line2D([], [], color='black', lw=2.4), Line2D([], [], color=GRAY, lw=1.4)],
                  ["Original", "Self-Calibrated"], loc='center',
                  bbox_to_anchor=(579 / W, 1 - 324.5 / H), ncol=2, fontsize=12.5,
                  frameon=True, fancybox=False, edgecolor='black', framealpha=1,
                  handlelength=2.7, handletextpad=0.3, columnspacing=0.9, borderpad=0.45)
leg1.get_frame().set_linewidth(0.8)

fig.text(570 / W, 1 - 402 / H, "a", ha='center', va='center', fontsize=17,
         weight='bold', family='Liberation Serif')

# ---- panel b ----
ax2 = fig.add_axes(frac(93.3, 546, 1122, 683))
ax2.plot(b_years, b_orig, color='black', lw=1.7, zorder=3)
ax2.plot(b_years, b_cal, color=GRAY, lw=1.1, zorder=4)
ax2.set_xlim(1948, 2002.5)
style_axes(ax2, -8, 10)
ax2.xaxis.set_major_locator(FixedLocator(b_xticks))
ax2.xaxis.set_minor_locator(FixedLocator(list(range(1948, 2003))))
ax2.set_xticklabels([str(y) for y in b_xticks], rotation=90, fontsize=12.5)
ax2.tick_params(axis='x', which='both', length=4, width=0.8, pad=8)
ax2.tick_params(axis='y', length=4, width=0.8, pad=8, labelsize=10)

fig.text(561 / W, 1 - 482 / H, "Original and Self-Calibrated PDSI Values for Crescent Lake, NE",
         ha='center', va='center', fontsize=14, weight='bold')
fig.text(561 / W, 1 - 507 / H, "Jan 1948 - Jul 2002",
         ha='center', va='center', fontsize=13, weight='bold')

leg2 = fig.legend([Line2D([], [], color='black', lw=1.7), Line2D([], [], color=GRAY, lw=1.1)],
                  ["Original", "Calibrated"], loc='center',
                  bbox_to_anchor=(604 / W, 1 - 774 / H), ncol=2, fontsize=12.5,
                  frameon=True, fancybox=False, edgecolor='black', framealpha=1,
                  handlelength=2.7, handletextpad=0.3, columnspacing=0.9, borderpad=0.45)
leg2.get_frame().set_linewidth(0.8)

fig.savefig("out.png", dpi=100)
